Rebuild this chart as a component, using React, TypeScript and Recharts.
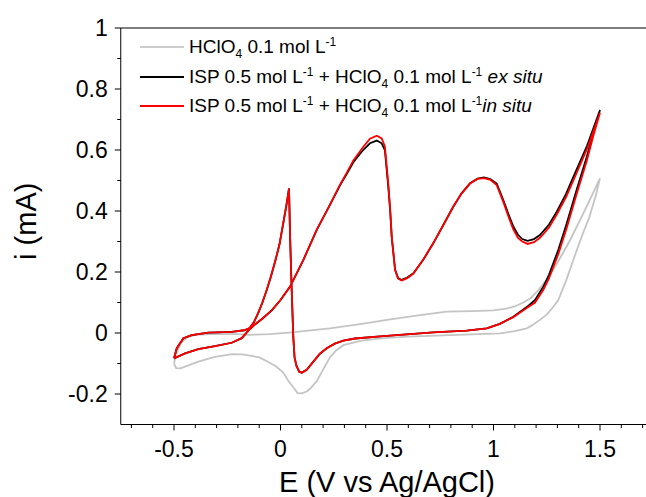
import { LineChart, Line, XAxis, YAxis, ReferenceLine, Legend, Label } from 'recharts';

// blank electrolyte (HClO4 only), forward scan then return scan
const blankE = [
  -0.5, -0.49, -0.47, -0.44, -0.4, -0.3, -0.2, -0.15, -0.05, 0.052, 0.232, 0.39, 0.5, 0.63, 0.78, 0.9, 1.0, 1.06,
  1.1, 1.14, 1.175, 1.21, 1.25, 1.3, 1.36, 1.42, 1.465, 1.5,
  1.48, 1.45, 1.42, 1.38, 1.34, 1.304, 1.281, 1.25, 1.218, 1.18, 1.156, 1.1, 1.03, 0.93, 0.796, 0.6, 0.483, 0.38,
  0.295, 0.26, 0.232, 0.2, 0.17, 0.14, 0.123, 0.1, 0.08, 0.06, 0.035, 0.013, -0.02, -0.057, -0.1, -0.135, -0.18,
  -0.229, -0.308, -0.386, -0.448, -0.47, -0.49, -0.5,
];
const blankI = [
  -0.1, -0.07, -0.035, -0.015, -0.006, -0.003, -0.004, -0.006, -0.004, 0.002, 0.015, 0.031, 0.043, 0.056, 0.07,
  0.072, 0.074, 0.08, 0.087, 0.1, 0.115, 0.14, 0.175, 0.23, 0.305, 0.39, 0.455, 0.507,
  0.45, 0.38, 0.327, 0.25, 0.17, 0.108, 0.086, 0.06, 0.043, 0.025, 0.015, 0.006, -0.001, -0.004, -0.007, -0.012,
  -0.017, -0.025, -0.04, -0.058, -0.08, -0.12, -0.158, -0.182, -0.192, -0.198, -0.197, -0.178, -0.155, -0.13,
  -0.11, -0.095, -0.08, -0.075, -0.07, -0.069, -0.078, -0.094, -0.11, -0.116, -0.115, -0.1,
];

// ISP + HClO4 potentials (shared by ex situ / in situ), forward then return
const cvE = [
  -0.5, -0.448, -0.386, -0.308, -0.229, -0.182, -0.151, -0.12, -0.08, -0.04, 0.0, 0.045, 0.107, 0.17, 0.232, 0.28,
  0.31, 0.342, 0.388, 0.42, 0.452, 0.475, 0.49, 0.506, 0.515, 0.522, 0.538, 0.552, 0.569, 0.595, 0.624, 0.67, 0.717,
  0.765, 0.811, 0.85, 0.89, 0.925, 0.955, 0.985, 1.015, 1.046, 1.07, 1.093, 1.115, 1.135, 1.16, 1.19, 1.218, 1.26,
  1.297, 1.34, 1.375, 1.44, 1.5,
  1.47, 1.438, 1.39, 1.344, 1.304, 1.26, 1.234, 1.195, 1.156, 1.093, 1.03, 0.968, 0.874, 0.717, 0.483, 0.35, 0.295,
  0.255, 0.217, 0.185, 0.16, 0.123, 0.1, 0.088, 0.075, 0.066, 0.06, 0.052, 0.045, 0.04, 0.028, 0.013, -0.005,
  -0.025, -0.045, -0.065, -0.085, -0.105, -0.125, -0.145, -0.17, -0.229, -0.339, -0.417, -0.456, -0.487, -0.5,
];
const exSituI = [
  -0.083, -0.067, -0.053, -0.043, -0.032, -0.017, 0.008, 0.028, 0.05, 0.075, 0.108, 0.152, 0.239, 0.338, 0.42,
  0.485, 0.52, 0.56, 0.6, 0.622, 0.631, 0.622, 0.6, 0.48, 0.4, 0.316, 0.207, 0.18, 0.174, 0.182, 0.196, 0.24, 0.294,
  0.355, 0.414, 0.458, 0.491, 0.506, 0.51, 0.505, 0.49, 0.436, 0.39, 0.349, 0.322, 0.308, 0.302, 0.308, 0.321,
  0.355, 0.398, 0.455, 0.512, 0.615, 0.731,
  0.66, 0.578, 0.469, 0.36, 0.272, 0.19, 0.152, 0.108, 0.085, 0.053, 0.03, 0.015, 0.008, 0.002, -0.01, -0.018,
  -0.025, -0.035, -0.05, -0.068, -0.089, -0.121, -0.13, -0.127, -0.108, -0.08, -0.012, 0.152, 0.316, 0.474, 0.42,
  0.36, 0.29, 0.235, 0.185, 0.14, 0.1, 0.065, 0.035, 0.016, 0.009, 0.004, 0.001, -0.007, -0.017, -0.05, -0.083,
];
const inSituI = [
  -0.083, -0.067, -0.053, -0.043, -0.032, -0.017, 0.008, 0.028, 0.05, 0.075, 0.108, 0.152, 0.239, 0.338, 0.42,
  0.487, 0.524, 0.566, 0.61, 0.637, 0.647, 0.638, 0.612, 0.49, 0.405, 0.318, 0.207, 0.178, 0.172, 0.18, 0.195, 0.24,
  0.294, 0.355, 0.414, 0.457, 0.49, 0.505, 0.508, 0.502, 0.485, 0.43, 0.382, 0.34, 0.312, 0.3, 0.292, 0.298, 0.312,
  0.345, 0.388, 0.445, 0.5, 0.605, 0.722,
  0.65, 0.565, 0.455, 0.345, 0.258, 0.178, 0.142, 0.1, 0.082, 0.052, 0.03, 0.015, 0.008, 0.002, -0.01, -0.018,
  -0.025, -0.035, -0.05, -0.068, -0.089, -0.121, -0.13, -0.127, -0.108, -0.08, -0.012, 0.152, 0.316, 0.474, 0.42,
  0.36, 0.29, 0.235, 0.185, 0.14, 0.1, 0.065, 0.035, 0.016, 0.009, 0.004, 0.001, -0.007, -0.017, -0.05, -0.083,
];

const xTicks = [
  -0.7, -0.6, -0.5, -0.4, -0.3, -0.2, -0.1, 0, 0.1, 0.2, 0.3, 0.4, 0.5, 0.6, 0.7, 0.8, 0.9, 1, 1.1, 1.2, 1.3, 1.4,
  1.5, 1.6, 1.7,
];
const xMajor = [-0.5, 0, 0.5, 1, 1.5];
const yTicks = [-0.2, -0.1, 0, 0.1, 0.2, 0.3, 0.4, 0.5, 0.6, 0.7, 0.8, 0.9, 1];
const yMajor = [-0.2, 0, 0.2, 0.4, 0.6, 0.8, 1];

const FONT = '"Liberation Sans", Arial, sans-serif';

const toPoints = (E: number[], I: number[]) => E.map((e, k) => ({ E: e, i: I[k] }));
const isMajor = (list: number[], v: number) => list.some((m) => Math.abs(m - v) < 1e-6);

const blankData = toPoints(blankE, blankI);
const exSituData = toPoints(cvE, exSituI);
const inSituData = toPoints(cvE, inSituI);

const XTick = (props: any) => {
  const { x, y, payload } = props;
  const major = isMajor(xMajor, payload.value);
  return (
    <g>
      <line x1={x} x2={x} y1={y} y2={y + (major ? 6 : 3.5)} stroke="#000" strokeWidth={1} />
      {major && (
        <text x={x} y={y + 32} textAnchor="middle" fontSize={23} fontFamily={FONT} fill="#000">
          {String(payload.value)}
        </text>
      )}
    </g>
  );
};

const YTick = (props: any) => {
  const { x, y, payload } = props;
  const major = isMajor(yMajor, payload.value);
  return (
    <g>
      <line x1={x} x2={x - (major ? 6 : 3.5)} y1={y} y2={y} stroke="#000" strokeWidth={1} />
      {major && (
        <text x={x - 13} y={y + 8} textAnchor="end" fontSize={23} fontFamily={FONT} fill="#000">
          {String(payload.value)}
        </text>
      )}
    </g>
  );
};

// x axis title, placed from the axis box that recharts hands over
const XTitle = (props: any) => {
  const vb = props.viewBox || { x: 112.75, y: 416.5, width: 532.5 };
  return (
    <text x={vb.x + vb.width / 2} y={vb.y + 67} textAnchor="middle" fontSize={29} fontFamily={FONT} fill="#000">
      E (V vs Ag/AgCl)
    </text>
  );
};

const YTitle = (props: any) => {
  const vb = props.viewBox || { x: 0, y: 20, height: 396.5 };
  const cx = 18;
  const cy = vb.y + vb.height / 2 - 5;
  return (
    <text
      x={cx}
      y={cy}
      dy="0.36em"
      transform={`rotate(-90, ${cx}, ${cy})`}
      textAnchor="middle"
      fontSize={29}
      fontFamily={FONT}
      fill="#000"
    >
      i (mA)
    </text>
  );
};

const sup = { fontSize: 12, verticalAlign: 'super' as const, lineHeight: 0 };
const sub = { fontSize: 12, verticalAlign: 'sub' as const, lineHeight: 0 };

const LegendRow = ({ color, height, children }: { color: string; height: number; children: any }) => (
  <div style={{ display: 'flex', alignItems: 'center', height, whiteSpace: 'nowrap' }}>
    <div style={{ width: 44, borderTop: `2px solid ${color}`, marginRight: 5 }} />
    <span>{children}</span>
  </div>
);

const renderLegend = () => (
  <div style={{ fontFamily: FONT, fontSize: 19, color: '#000' }}>
    <LegendRow color="#cccccc" height={30}>
      HClO<span style={sub}>4</span> 0.1 mol L<span style={sup}>-1</span>
    </LegendRow>
    <LegendRow color="#000000" height={30}>
      ISP 0.5 mol L<span style={sup}>-1</span> + HClO<span style={sub}>4</span> 0.1 mol L
      <span style={sup}>-1</span> <i>ex situ</i>
    </LegendRow>
    <LegendRow color="#ff0000" height={28}>
      ISP 0.5 mol L<span style={sup}>-1</span> + HClO<span style={sub}>4</span> 0.1 mol L
      <span style={sup}>-1</span>
      <i>in situ</i>
    </LegendRow>
  </div>
);

export default function App() {
  return (
    <div style={{ position: 'absolute', left: 8, top: 8, width: 638, height: 489, overflow: 'hidden' }}>
      <LineChart width={700} height={489} margin={{ top: 20, right: 54.75, bottom: 0, left: 0 }}>
        <XAxis
          type="number"
          dataKey="E"
          domain={[-0.75, 1.75]}
          ticks={xTicks}
          interval={0}
          tick={(p: any) => <XTick {...p} />}
          tickLine={false}
          tickSize={0}
          tickMargin={0}
          height={72.5}
          axisLine={{ stroke: '#000', strokeWidth: 1 }}
          allowDataOverflow
        >
          <Label content={(p: any) => <XTitle {...p} />} />
        </XAxis>
        <YAxis
          type="number"
          dataKey="i"
          domain={[-0.3, 1]}
          ticks={yTicks}
          interval={0}
          tick={(p: any) => <YTick {...p} />}
          tickLine={false}
          tickSize={0}
          tickMargin={0}
          width={112.75}
          axisLine={{ stroke: '#000', strokeWidth: 1 }}
          allowDataOverflow
        >
          <Label content={(p: any) => <YTitle {...p} />} />
        </YAxis>
        <ReferenceLine y={1} stroke="#000" strokeWidth={1} />
        <Line
          data={blankData}
          dataKey="i"
          type="linear"
          stroke="#c4c4c4"
          strokeWidth={1.8}
          dot={false}
          isAnimationActive={false}
        />
        <Line
          data={exSituData}
          dataKey="i"
          type="linear"
          stroke="#000000"
          strokeWidth={1.8}
          dot={false}
          isAnimationActive={false}
        />
        <Line
          data={inSituData}
          dataKey="i"
          type="linear"
          stroke="#ff0000"
          strokeWidth={1.8}
          dot={false}
          isAnimationActive={false}
        />
        <Legend
          layout="vertical"
          align="center"
          verticalAlign="middle"
          content={renderLegend}
          wrapperStyle={{ left: 132, top: 24, width: 480, height: 90 }}
        />
      </LineChart>
    </div>
  );
}
